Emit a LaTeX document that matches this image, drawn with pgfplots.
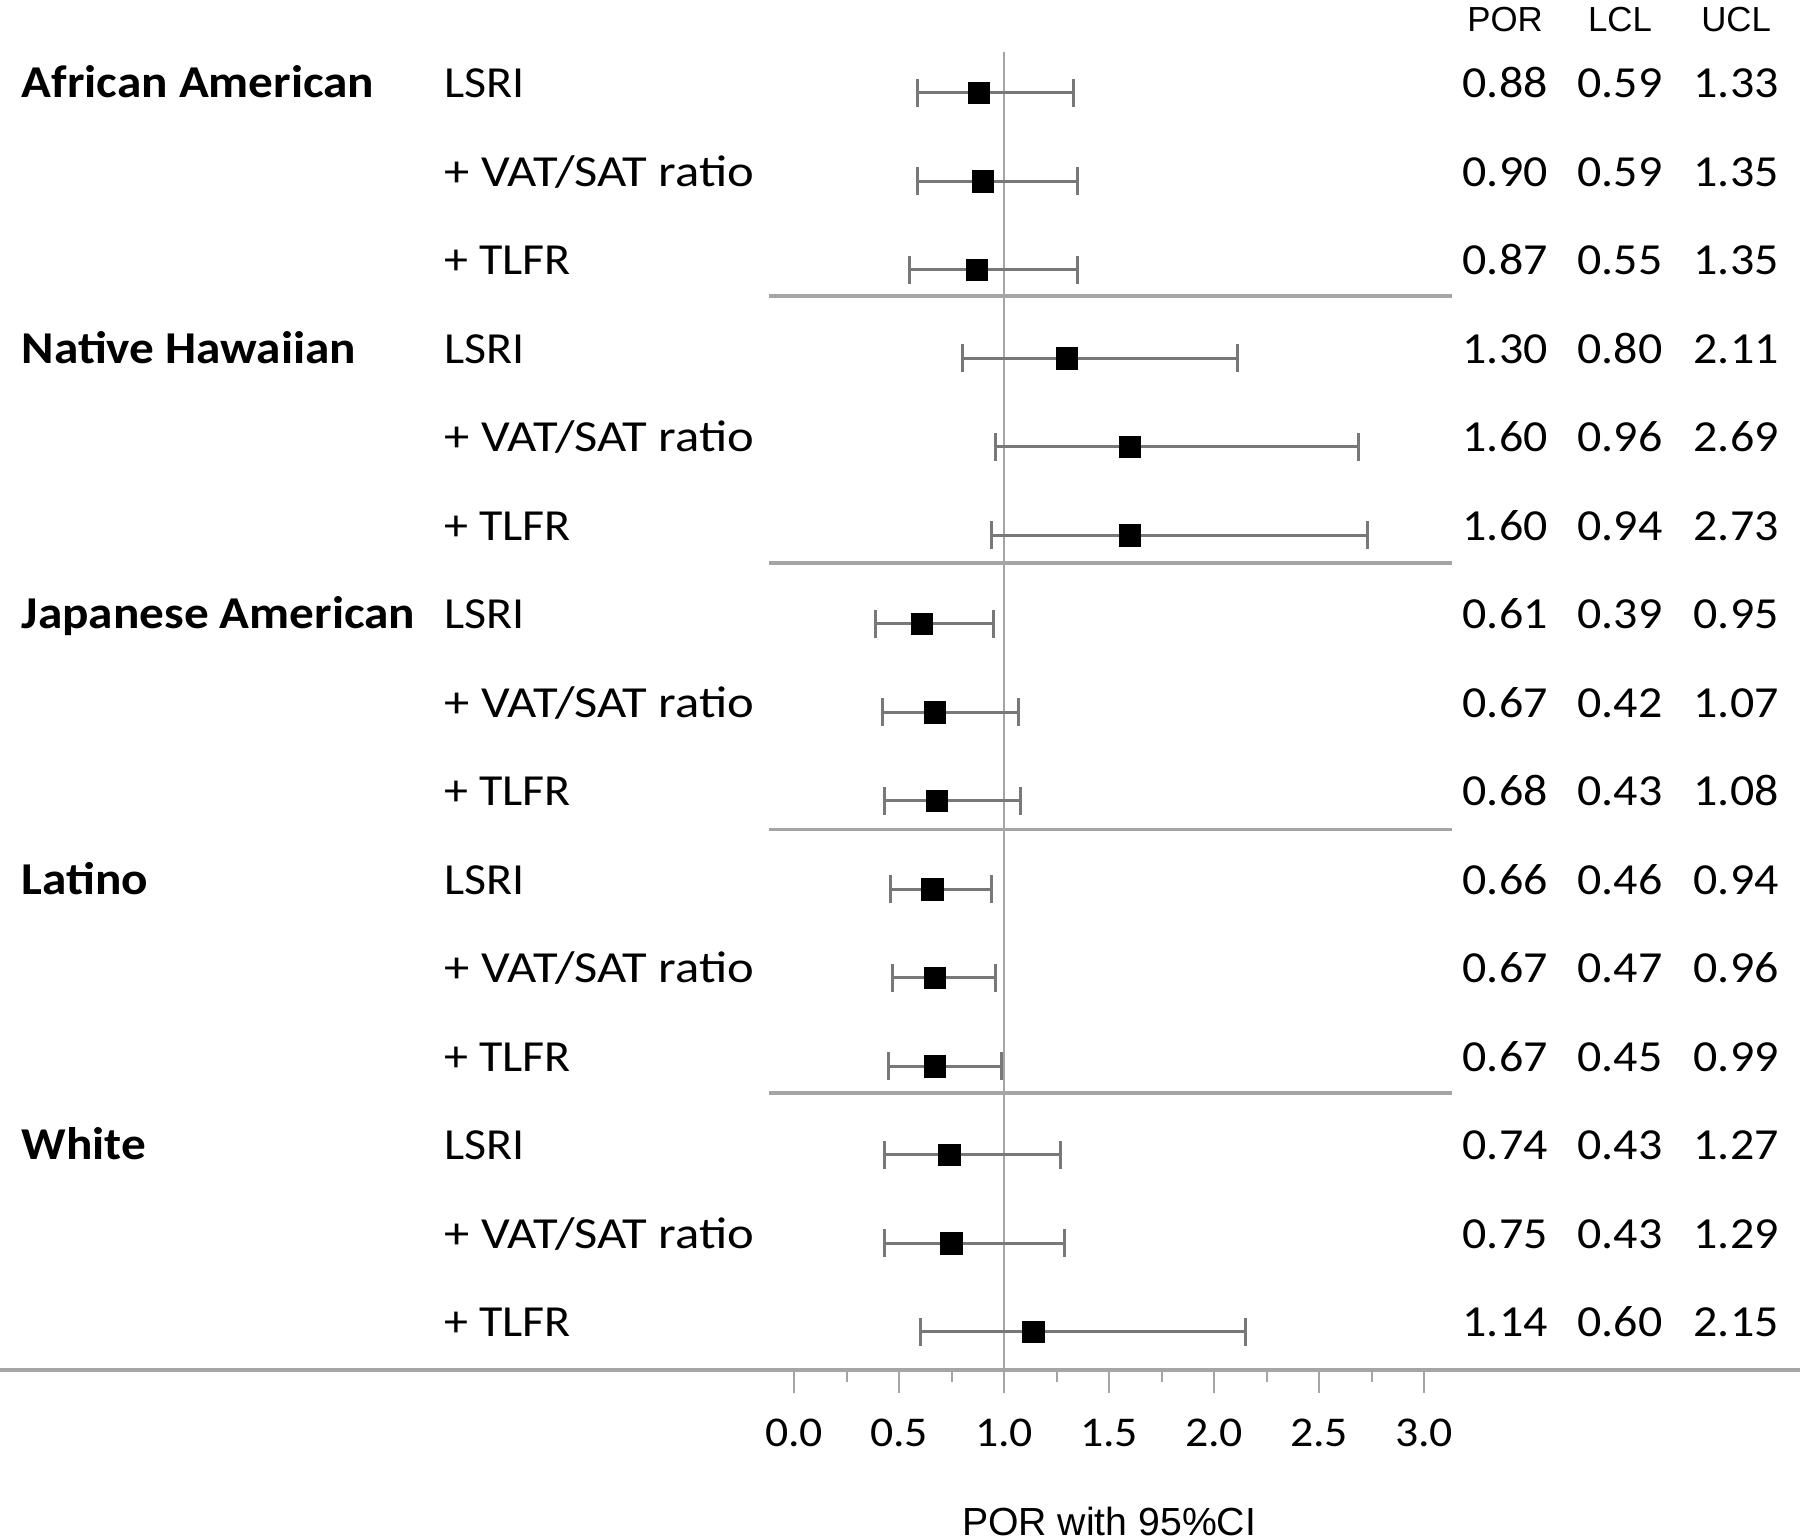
\documentclass[border=0pt]{standalone}
\usepackage{pgfplots}
\usepackage{pgfplotstable}
\pgfplotsset{compat=1.18}
\usepackage{fontspec}
\setmainfont{Carlito}
\newfontfamily\calfont[FakeStretch=1.08]{Carlito}
\newfontfamily\arifont{Liberation Sans}
\definecolor{barg}{RGB}{120,120,120}
\definecolor{lineg}{RGB}{165,165,165}

\pgfplotstableread{
y   por   em    ep
-1  0.88  0.29  0.45
-2  0.90  0.31  0.45
-3  0.87  0.32  0.48
-4  1.30  0.50  0.81
-5  1.60  0.64  1.09
-6  1.60  0.66  1.13
-7  0.61  0.22  0.34
-8  0.67  0.25  0.40
-9  0.68  0.25  0.40
-10 0.66  0.20  0.28
-11 0.67  0.20  0.29
-12 0.67  0.22  0.32
-13 0.74  0.31  0.53
-14 0.75  0.32  0.54
-15 1.14  0.54  1.01
}\fdata

\newcommand{\grp}[2]{\node[inner sep=0pt,anchor=base west,font=\calfont\bfseries\fontsize{11.4}{12}\selectfont] at (axis cs:-3.681,#1) {#2};}
\newcommand{\sub}[2]{\node[inner sep=0pt,anchor=base west,font=\calfont\fontsize{11.1}{12}\selectfont] at (axis cs:-1.667,#1) {#2};}
\newcommand{\vat}{\scalebox{1.055}[1]{+ VAT/SAT ratio}}
\newcommand{\vals}[4]{%
\node[anchor=base,font=\calfont\fontsize{11.1}{12}\selectfont] at (axis cs:3.386,#1) {#2};
\node[anchor=base,font=\calfont\fontsize{11.1}{12}\selectfont] at (axis cs:3.933,#1) {#3};
\node[anchor=base,font=\calfont\fontsize{11.1}{12}\selectfont] at (axis cs:4.486,#1) {#4};}

\begin{document}
\begin{tikzpicture}
\begin{axis}[
  scale only axis,
  width=450pt, height=342.5pt,
  xmin=-3.781, xmax=4.790,
  ymin=-15.43, ymax=0.0508,
  clip=false,
  axis x line*=bottom,
  axis y line=none,
  x axis line style={lineg, line width=0.9pt, -},
  xtick={0,0.5,1,1.5,2,2.5,3},
  minor xtick={0.25,0.75,1.25,1.75,2.25,2.75},
  tick align=outside,
  major tick length=5.75pt,
  minor tick length=3pt,
  every tick/.style={lineg, line width=0.5pt},
  xticklabel style={font=\calfont\fontsize{10.6}{12}\selectfont, yshift=-2.9pt},
  /pgf/number format/assume math mode=true,
  xticklabel={\pgfmathprintnumber[fixed,fixed zerofill,precision=1]{\tick}},
]
% reference line at 1
\addplot[lineg, line width=0.6pt, no marks] coordinates {(1,-0.537) (1,-15.43)};
% separators
\addplot[lineg, line width=0.8pt, no marks] coordinates {(-0.12,-3.294) (3.133,-3.294)};
\addplot[lineg, line width=0.8pt, no marks] coordinates {(-0.12,-6.31) (3.133,-6.31)};
\addplot[lineg, line width=0.8pt, no marks] coordinates {(-0.12,-9.32) (3.133,-9.32)};
\addplot[lineg, line width=0.8pt, no marks] coordinates {(-0.12,-12.30) (3.133,-12.30)};
% estimates with CIs
\addplot[draw=none, mark=square*, mark options={black, mark size=2.6pt},
  error bars/.cd, x dir=both, x explicit,
  error bar style={barg, line width=0.75pt},
  error mark options={barg, line width=0.75pt, mark size=3.5pt, rotate=90}]
  table[x=por, y=y, x error minus=em, x error plus=ep] {\fdata};

% headers
\node[anchor=base,font=\arifont\fontsize{8.7}{10}\selectfont] at (axis cs:3.386,-0.31) {POR};
\node[anchor=base,font=\arifont\fontsize{8.7}{10}\selectfont] at (axis cs:3.933,-0.31) {LCL};
\node[anchor=base,font=\arifont\fontsize{8.7}{10}\selectfont] at (axis cs:4.486,-0.31) {UCL};

\grp{-1.056}{African American}
\grp{-4.056}{Native Hawaiian}
\grp{-7.056}{Japanese American}
\grp{-10.056}{Latino}
\grp{-13.056}{White}

\sub{-1.056}{LSRI}\sub{-2.056}{\vat}\sub{-3.056}{+ TLFR}
\sub{-4.056}{LSRI}\sub{-5.056}{\vat}\sub{-6.056}{+ TLFR}
\sub{-7.056}{LSRI}\sub{-8.056}{\vat}\sub{-9.056}{+ TLFR}
\sub{-10.056}{LSRI}\sub{-11.056}{\vat}\sub{-12.056}{+ TLFR}
\sub{-13.056}{LSRI}\sub{-14.056}{\vat}\sub{-15.056}{+ TLFR}

\vals{-1.056}{0.88}{0.59}{1.33}
\vals{-2.056}{0.90}{0.59}{1.35}
\vals{-3.056}{0.87}{0.55}{1.35}
\vals{-4.056}{1.30}{0.80}{2.11}
\vals{-5.056}{1.60}{0.96}{2.69}
\vals{-6.056}{1.60}{0.94}{2.73}
\vals{-7.056}{0.61}{0.39}{0.95}
\vals{-8.056}{0.67}{0.42}{1.07}
\vals{-9.056}{0.68}{0.43}{1.08}
\vals{-10.056}{0.66}{0.46}{0.94}
\vals{-11.056}{0.67}{0.47}{0.96}
\vals{-12.056}{0.67}{0.45}{0.99}
\vals{-13.056}{0.74}{0.43}{1.27}
\vals{-14.056}{0.75}{0.43}{1.29}
\vals{-15.056}{1.14}{0.60}{2.15}

% axis label
\node[anchor=base,font=\arifont\fontsize{9.8}{12}\selectfont] at (axis cs:1.5,-17.30) {POR with 95\%CI};

\coordinate (bl) at (axis cs:-3.781,-17.339);
\coordinate (tr) at (axis cs:4.790,0.0508);
\end{axis}
\pgfresetboundingbox
\path (bl) rectangle (tr);
\end{tikzpicture}
\end{document}
